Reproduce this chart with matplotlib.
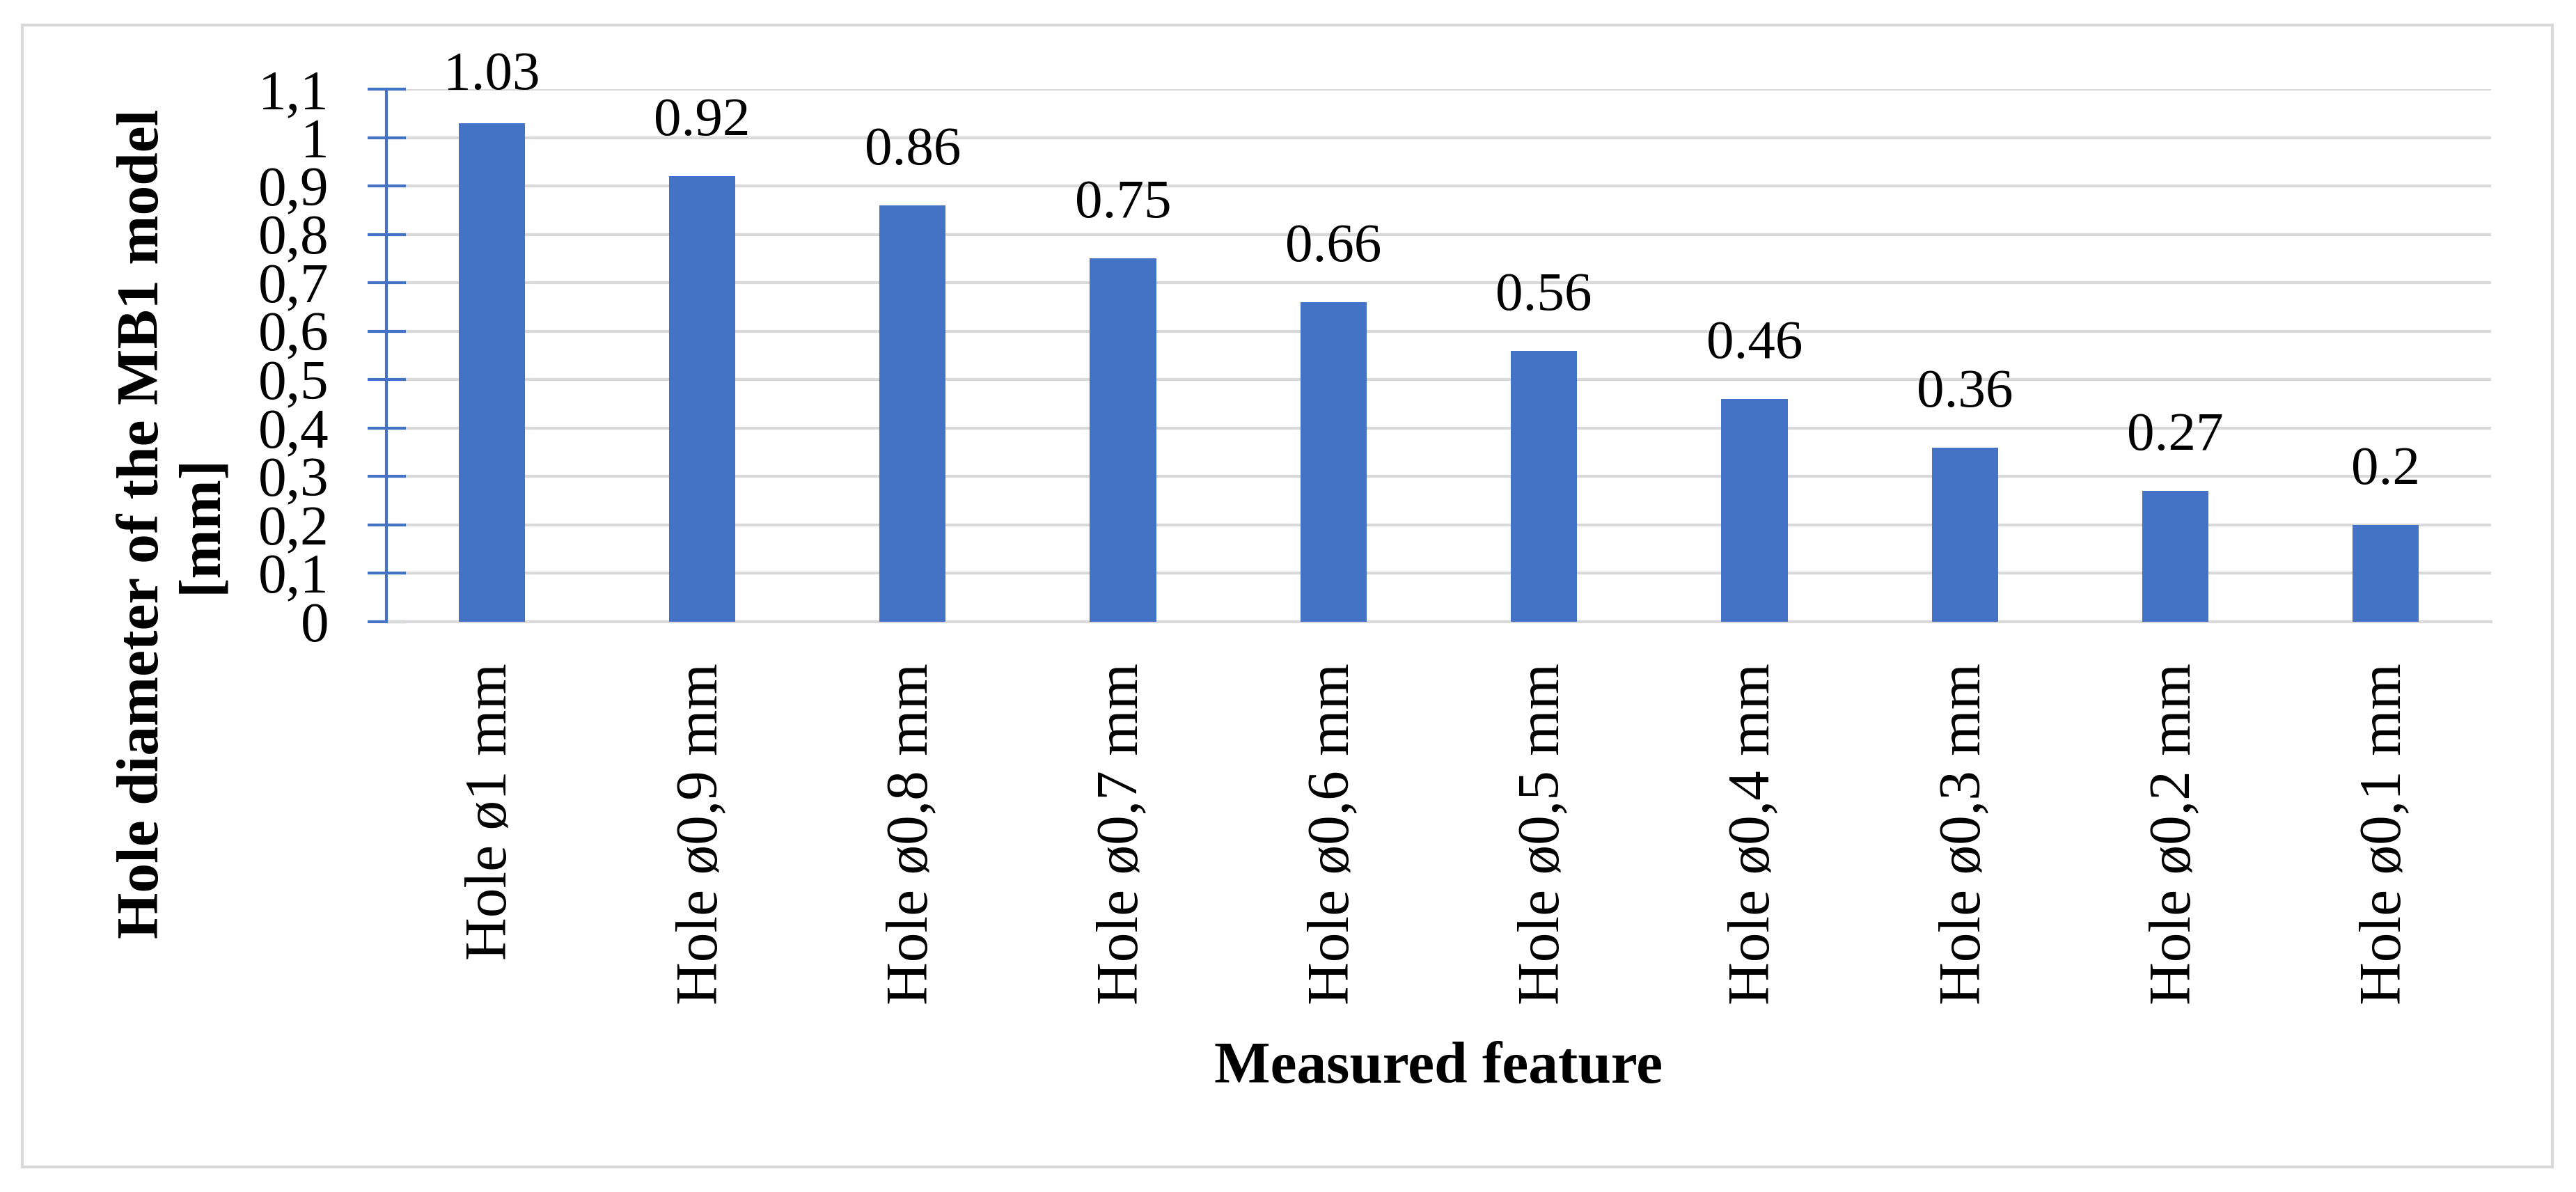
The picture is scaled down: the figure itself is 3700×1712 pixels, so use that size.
import matplotlib

matplotlib.use("Agg")
import matplotlib.pyplot as plt
import numpy as np
from matplotlib.patches import Rectangle
from matplotlib.ticker import FuncFormatter, MultipleLocator

# data
categories = ["Hole ø1 mm", "Hole ø0,9 mm", "Hole ø0,8 mm", "Hole ø0,7 mm", "Hole ø0,6 mm",
              "Hole ø0,5 mm", "Hole ø0,4 mm", "Hole ø0,3 mm", "Hole ø0,2 mm", "Hole ø0,1 mm"]
values = [1.03, 0.92, 0.86, 0.75, 0.66, 0.56, 0.46, 0.36, 0.27, 0.2]
value_labels = ["1.03", "0.92", "0.86", "0.75", "0.66", "0.56", "0.46", "0.36", "0.27", "0.2"]

BLUE = "#4472C4"
GRID = "#d9d9d9"
W, H, DPI = 3700, 1712, 300

plt.rcParams.update({
    "font.family": ["Liberation Serif", "DejaVu Serif"],
    "text.color": "black", "xtick.color": "black", "ytick.color": "black",
})

fig = plt.figure(figsize=(W / DPI, H / DPI), dpi=DPI)
ax = fig.add_axes([555 / W, 1 - 893 / H, (3578 - 555) / W, (893 - 128) / H])

x = np.arange(len(categories))
ax.bar(x, values, width=0.315, color=BLUE, zorder=3)
ax.set_xlim(-0.5, len(categories) - 0.5)
ax.set_ylim(0, 1.1)

# value labels above bars (kept inside the frame near the top)
px = 72 / DPI
for xi, v, lab in zip(x, values, value_labels):
    ax.annotate(lab, (xi, min(v, 1.015)), xytext=(0, 59 * px), textcoords="offset points",
                ha="center", va="baseline", fontsize=19, zorder=4)

ax.yaxis.set_major_locator(MultipleLocator(0.1))
ax.yaxis.set_major_formatter(FuncFormatter(lambda v, p: f"{v:.1f}".rstrip("0").rstrip(".").replace(".", ",")))
ax.yaxis.grid(True, color=GRID, linewidth=1.0)
ax.set_axisbelow(True)

for s in ("top", "right"):
    ax.spines[s].set_visible(False)
ax.spines["bottom"].set_color(GRID)
ax.spines["bottom"].set_linewidth(1.0)
ax.spines["left"].set_color(BLUE)
ax.spines["left"].set_linewidth(1.0)
ax.spines["left"].set_zorder(5)

ax.tick_params(axis="y", direction="inout", length=55 * px, width=1.0, color=BLUE,
               pad=55 * px, labelsize=19.5)
ax.tick_params(axis="x", length=0, pad=59 * px, labelsize=20.5)
ax.set_xticks(x)
ax.set_xticklabels(categories, rotation=90)

fig.text(2066 / W, 1 - 1555 / H, "Measured feature", ha="center", va="baseline",
         fontsize=20.5, fontweight="bold")
fig.text(248 / W, 1 - 752 / H, "Hole diameter of the MB1 model\n[mm]", rotation=90,
         ha="center", va="center", multialignment="center", fontsize=20.5,
         fontweight="bold", linespacing=1.1)

# light outer frame around the whole chart
fig.patches.append(Rectangle((32 / W, 1 - 1676 / H), (3666 - 32) / W, (1676 - 36) / H,
                             transform=fig.transFigure, fill=False, edgecolor=GRID, linewidth=1.0))

fig.savefig("out.png", dpi=DPI, facecolor="white")
